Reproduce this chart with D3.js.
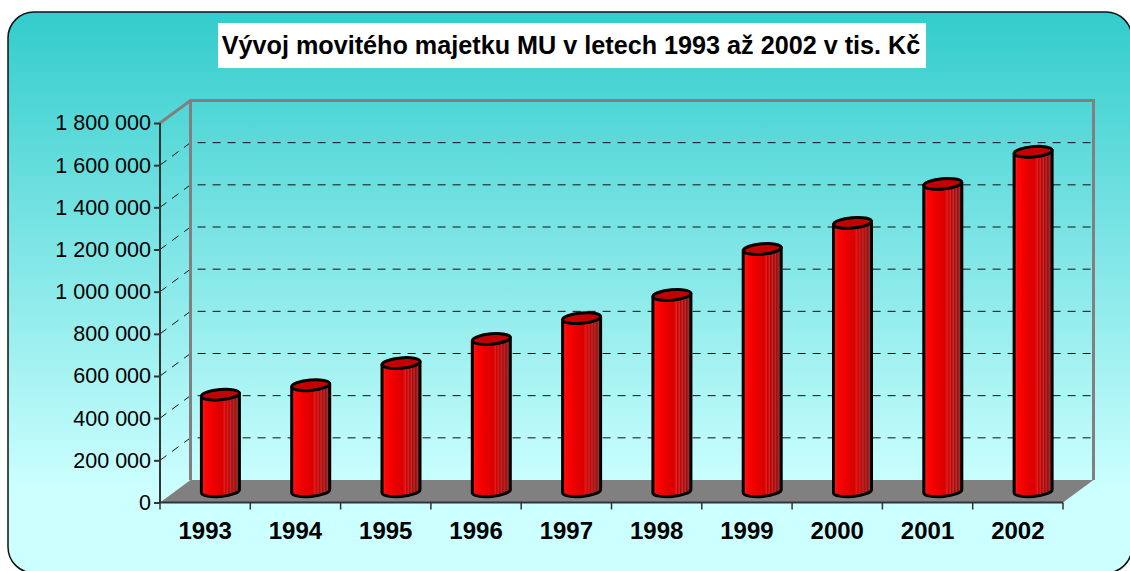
<!DOCTYPE html>
<html><head><meta charset="utf-8">
<script src="https://cdn.jsdelivr.net/npm/d3@7"></script>
<style>html,body{margin:0;padding:0;background:#fff}svg{display:block}</style></head>
<body><svg id="c" width="1130" height="571"></svg>
<script>
const years = ["1993","1994","1995","1996","1997","1998","1999","2000","2001","2002"];
const values = [458000,503000,608000,722000,821000,931000,1149000,1273000,1458000,1610000];
const yTicks = [0,200000,400000,600000,800000,1000000,1200000,1400000,1600000,1800000];
const titleText = "Vývoj movitého majetku MU v letech 1993 až 2002 v tis. Kč";
const fmt = v => String(v).replace(/\B(?=(\d{3})+$)/g," ");

const svg = d3.select("#c");
const defs = svg.append("defs");
const bg = defs.append("linearGradient").attr("id","bg").attr("x1",0).attr("x2",0).attr("y1",0).attr("y2",1);
bg.append("stop").attr("offset",0).attr("stop-color","#33cccc");
bg.append("stop").attr("offset",0.85).attr("stop-color","#ccffff");
bg.append("stop").attr("offset",1).attr("stop-color","#ccffff");

const barStops = [[0,"#f00000"],[0.06,"#ff1010"],[0.1,"#ff0505"],[0.3,"#ee0000"],[0.55,"#d80000"],[0.62,"#e02020"],[0.64,"#cc0000"],[0.7,"#d02828"],[0.72,"#bb0000"],[0.78,"#c03030"],[0.8,"#aa0808"],[0.86,"#b03030"],[0.88,"#a00808"],[0.94,"#a03030"],[1,"#901010"]];
const bar = defs.append("linearGradient").attr("id","bar").attr("x1",0).attr("x2",1).attr("y1",0).attr("y2",0);
barStops.forEach(s=>bar.append("stop").attr("offset",s[0]).attr("stop-color",s[1]));

svg.append("rect").attr("x",8).attr("y",12).attr("width",1124).attr("height",561).attr("rx",26).attr("ry",26)
  .attr("fill","url(#bg)").attr("stroke","#111").attr("stroke-width",1.5);

const box = {left:160,right:1063,bottom:502.5,dx:30.5,dy:-22.5};
const y = d3.scaleLinear().domain([0,1800000]).range([box.bottom,123]);
const x = d3.scaleBand().domain(years).range([box.left,box.right]);
const topY = y(1800000);

// floor
svg.append("polygon").attr("fill","#808080")
  .attr("points",[[box.left,box.bottom],[box.right,box.bottom],[box.right+box.dx,box.bottom+box.dy],[box.left+box.dx,box.bottom+box.dy]].join(" "));

// gridlines
const g = svg.append("g");
yTicks.filter(t=>t>0&&t<1800000).forEach(t=>{
  const py=y(t);
  g.append("path").attr("d",`M${box.left},${py}L${box.left+box.dx},${py+box.dy}L${box.right+box.dx},${py+box.dy}`)
   .attr("fill","none").attr("stroke","#111").attr("stroke-width",1).attr("stroke-dasharray","8 7");
});

// walls
svg.append("path").attr("fill","none").attr("stroke","#808080").attr("stroke-width",3)
  .attr("d",`M${box.left},${topY}L${box.left+box.dx},${topY+box.dy}L${box.right+box.dx},${topY+box.dy}L${box.right+box.dx},${box.bottom+box.dy}`);
svg.append("line").attr("stroke","#808080").attr("stroke-width",3)
  .attr("x1",box.left+box.dx).attr("x2",box.left+box.dx).attr("y1",topY+box.dy).attr("y2",box.bottom+box.dy);

// bars
const rx=19, ry=5.2, tilt=1.7, midDx=box.dx/2, midDy=box.dy/2;
const bars = svg.append("g").selectAll("g").data(values).join("g");
bars.each(function(v,i){
  const cx=x(years[i])+x.bandwidth()/2+midDx, b=box.bottom+midDy, t=y(v)+midDy;
  const s=d3.select(this);
  s.append("path").attr("fill","url(#bar)").attr("stroke","#000").attr("stroke-width",3).attr("stroke-linejoin","round")
   .attr("d",`M${cx-rx},${t+tilt}L${cx-rx},${b+tilt}A${rx},${ry} -5 0 0 ${cx+rx},${b-tilt}L${cx+rx},${t-tilt}Z`);
  s.append("ellipse").attr("cx",cx).attr("cy",t).attr("rx",rx).attr("ry",ry)
   .attr("transform",`rotate(-5 ${cx} ${t})`)
   .attr("fill","#c40000").attr("stroke","#000").attr("stroke-width",3);
});

// axes
const yAxis = d3.axisLeft(y).tickValues(yTicks).tickFormat(fmt).tickSize(6).tickPadding(3);
const ya = svg.append("g").attr("transform",`translate(${box.left},0)`).call(yAxis);
ya.selectAll("path,line").attr("stroke","#333").attr("stroke-width",2);
ya.select("path").attr("d",`M0,${topY}L0,${box.bottom}`);
ya.selectAll("text").attr("font-family","'Liberation Sans',Arial,sans-serif").attr("font-size",21.5).attr("fill","#000");

const xa = svg.append("g").attr("transform",`translate(0,${box.bottom})`);
xa.append("line").attr("x1",box.left).attr("x2",box.right).attr("stroke","#333").attr("stroke-width",2);
xa.selectAll(".t").data(d3.range(years.length+1)).join("line").attr("class","t")
  .attr("x1",i=>box.left+i*x.step()).attr("x2",i=>box.left+i*x.step()).attr("y1",0).attr("y2",7).attr("stroke","#333").attr("stroke-width",1.5);
xa.selectAll("text").data(years).join("text").text(d=>d)
  .attr("x",d=>x(d)+x.bandwidth()/2).attr("y",36).attr("text-anchor","middle")
  .attr("font-family","'Liberation Sans',Arial,sans-serif").attr("font-size",24).attr("font-weight","bold").attr("fill","#000");

// title
svg.append("rect").attr("x",218).attr("y",23).attr("width",708).attr("height",45).attr("fill","#fff");
svg.append("text").attr("x",571).attr("y",54).attr("text-anchor","middle").text(titleText)
  .attr("font-family","'Liberation Sans',Arial,sans-serif").attr("font-size",25.2).attr("font-weight","bold").attr("fill","#000");
</script></body></html>
